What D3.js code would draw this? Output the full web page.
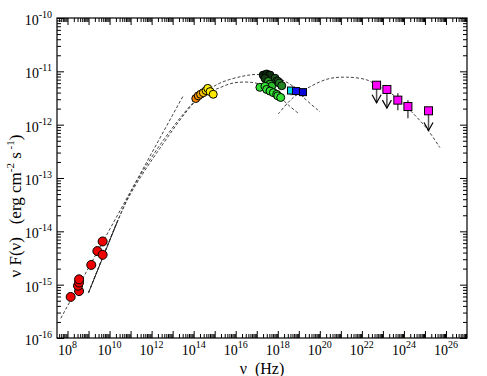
<!DOCTYPE html>
<html>
<head>
<meta charset="utf-8">
<script src="https://cdn.jsdelivr.net/npm/d3@7"></script>
<style>
  body { margin: 0; background: #fff; }
  text { font-family: "Liberation Serif", "DejaVu Serif", serif; fill: #000; }
</style>
</head>
<body>
<div id="vis"></div>
<script>
// Data, as log10(nu [Hz]) and log10(nuFnu [erg cm^-2 s^-1])
const radioNu = [8.15, 8.55, 8.50, 8.55, 8.55, 9.13, 9.42, 9.67, 9.67];
const radioF  = [-15.23, -15.12, -15.02, -14.96, -14.90, -14.63, -14.37, -14.44, -14.19];

const optNu    = [14.10, 14.22, 14.33, 14.46, 14.59, 14.67, 14.78, 14.93];
const optF     = [-11.51, -11.46, -11.43, -11.40, -11.36, -11.32, -11.38, -11.43];
const optColor = ['#f08400', '#f59500', '#faa800', '#ffc400', '#ffe000', '#ffee00', '#ffee00', '#ffe800'];

const uvNu    = [17.31, 17.47, 17.63, 17.39, 17.87, 17.95, 18.02, 18.07, 18.19,
                 17.55, 17.63, 17.71,
                 17.15, 17.39, 17.47, 17.63, 17.79, 17.95, 18.00, 18.14];
const uvF     = [-11.07, -11.05, -11.07, -11.13, -11.13, -11.18, -11.19, -11.22, -11.27,
                 -11.19, -11.24, -11.28,
                 -11.30, -11.28, -11.34, -11.37, -11.40, -11.43, -11.46, -11.49];
const uvColor = ['#082808', '#082808', '#0e300e', '#123a12', '#1a5a1a', '#1c661c', '#1e701e', '#207a20', '#228422',
                 '#22a022', '#28b028', '#2cbc2c',
                 '#33dd33', '#33dd33', '#33dd33', '#33e033', '#33e033', '#33e033', '#33e033', '#33e033'];

const xrayNu    = [18.63, 18.87, 19.20];
const xrayF     = [-11.36, -11.37, -11.39];
const xrayColor = ['#00d8e8', '#1010f0', '#0a0ad8'];

const gamNu    = [22.70, 23.19, 23.71, 24.19, 25.17];
const gamF     = [-11.26, -11.34, -11.54, -11.66, -11.74];
const gamLow   = [-11.59, -11.69, -11.73, -11.88, -12.11];
const gamHigh  = [null, null, -11.41, -11.54, null];
const gamLimit = [true, true, false, false, true];

// model curves
const powerLaw = [[7.68, -15.63], [13.50, -11.46]];
const radioSlope = [[9.00, -15.15], [10.40, -13.79]];
const syncA = [[9.00, -15.15], [10.40, -13.79], [11.05, -13.23], [12.40, -12.38], [13.97, -11.59],
               [14.63, -11.37], [15.25, -11.22], [16.35, -11.09], [17.15, -11.06], [18.10, -11.14],
               [18.82, -11.31], [19.20, -11.48], [20.01, -11.76]];
const syncB = [[9.00, -15.15], [10.40, -13.79], [11.05, -13.26], [12.40, -12.44], [13.97, -11.61],
               [14.63, -11.39], [15.09, -11.33], [15.87, -11.22], [16.82, -11.21], [17.39, -11.28],
               [17.96, -11.43], [18.50, -11.63], [19.02, -11.80]];
const icC = [[18.02, -11.80], [18.48, -11.59], [18.90, -11.44], [20.32, -11.15], [21.28, -11.11],
             [22.23, -11.16], [22.70, -11.26], [23.48, -11.44], [24.29, -11.73], [25.08, -12.07],
             [25.71, -12.43]];

const xLabelExp = [8, 10, 12, 14, 16, 18, 20, 22, 24, 26];
const yLabelExp = [-16, -15, -14, -13, -12, -11, -10];

const W = 487, H = 376;
const plot = { left: 57, right: 467, top: 18, bottom: 338 };

const svg = d3.select('#vis').append('svg')
    .attr('width', W).attr('height', H);

const x = d3.scaleLog().domain([Math.pow(10, 7.5), 1e27]).range([plot.left, plot.right]);
const y = d3.scaleLog().domain([1e-16, 1e-10]).range([plot.bottom, plot.top]);
const p = v => Math.pow(10, v);

// ticks: decades and 2..9 minors
const xMajor = d3.range(8, 27).map(p);
const yMajor = d3.range(-16, -9).map(p);
const minorOf = (lo, hi, dom) => {
    let out = [];
    for (let k = lo; k <= hi; k++) for (let m = 2; m <= 9; m++) {
        const v = m * p(k);
        if (v > dom[0] && v < dom[1]) out.push(v);
    }
    return out;
};
const xMinor = minorOf(7, 26, x.domain());
const yMinor = minorOf(-16, -11, y.domain());

function tickAxis(gen, tr, vals, size) {
    const g = svg.append('g').attr('transform', tr)
        .call(gen.tickValues(vals).tickSize(-size).tickFormat(''));
    g.select('.domain').remove();
    g.selectAll('.tick line').attr('stroke', '#000').attr('stroke-width', 1);
}
tickAxis(d3.axisBottom(x), `translate(0,${plot.bottom})`, xMajor, 7);
tickAxis(d3.axisBottom(x), `translate(0,${plot.bottom})`, xMinor, 4);
tickAxis(d3.axisTop(x), `translate(0,${plot.top})`, xMajor, 7);
tickAxis(d3.axisTop(x), `translate(0,${plot.top})`, xMinor, 4);
tickAxis(d3.axisLeft(y), `translate(${plot.left},0)`, yMajor, 7);
tickAxis(d3.axisLeft(y), `translate(${plot.left},0)`, yMinor, 4);
tickAxis(d3.axisRight(y), `translate(${plot.right},0)`, yMajor, 7);
tickAxis(d3.axisRight(y), `translate(${plot.right},0)`, yMinor, 4);

// frame
svg.append('rect')
    .attr('x', plot.left).attr('y', plot.top)
    .attr('width', plot.right - plot.left).attr('height', plot.bottom - plot.top)
    .attr('fill', 'none').attr('stroke', '#000').attr('stroke-width', 1.2);

// tick labels with superscripts
function powLabel(sel, e) {
    sel.append('tspan').text('10');
    sel.append('tspan').attr('dy', -7).style('font-size', '10px').text(e);
}
xLabelExp.forEach(e => {
    svg.append('text')
        .attr('x', x(p(e))).attr('y', 355)
        .attr('text-anchor', 'middle')
        .style('font-size', '14px')
        .call(powLabel, e);
});
yLabelExp.forEach(e => {
    svg.append('text')
        .attr('x', 52).attr('y', y(p(e)) + 7)
        .attr('text-anchor', 'end')
        .style('font-size', '14px')
        .call(powLabel, e);
});

// axis titles
svg.append('text')
    .attr('x', (plot.left + plot.right) / 2).attr('y', 374)
    .attr('text-anchor', 'middle')
    .style('font-size', '16px').style('white-space', 'pre')
    .text('\u03bd  (Hz)');

const yt = svg.append('text')
    .attr('transform', 'translate(21,206) rotate(-90)')
    .attr('text-anchor', 'middle')
    .style('font-size', '17px').style('white-space', 'pre');
yt.append('tspan').text('\u03bd F(\u03bd)   (erg cm');
yt.append('tspan').attr('dy', -7).style('font-size', '11px').text('-2');
yt.append('tspan').attr('dy', 7).text(' s');
yt.append('tspan').attr('dy', -7).style('font-size', '11px').text(' -1');
yt.append('tspan').attr('dy', 7).text(')');

// model lines
const line = d3.line().x(d => x(p(d[0]))).y(d => y(p(d[1]))).curve(d3.curveCatmullRom);
const curves = svg.append('g');
[powerLaw, syncA, syncB, icC].forEach(c => {
    curves.append('path').datum(c)
        .attr('d', line)
        .attr('fill', 'none')
        .attr('stroke', '#444')
        .attr('stroke-width', 1)
        .attr('stroke-dasharray', '3,2');
});
curves.append('path').datum(radioSlope)
    .attr('d', line).attr('fill', 'none').attr('stroke', '#222').attr('stroke-width', 1);

// radio
svg.append('g').selectAll('circle')
    .data(radioNu.map((v, i) => [v, radioF[i]]))
    .join('circle')
    .attr('cx', d => x(p(d[0]))).attr('cy', d => y(p(d[1])))
    .attr('r', 4.5)
    .attr('fill', '#ee0000').attr('stroke', '#000').attr('stroke-width', 1);

// optical
svg.append('g').selectAll('circle')
    .data(optNu.map((v, i) => [v, optF[i], optColor[i]]))
    .join('circle')
    .attr('cx', d => x(p(d[0]))).attr('cy', d => y(p(d[1])))
    .attr('r', 4)
    .attr('fill', d => d[2]).attr('stroke', '#000').attr('stroke-width', 1);

// UV / soft X
svg.append('g').selectAll('circle')
    .data(uvNu.map((v, i) => [v, uvF[i], uvColor[i]]))
    .join('circle')
    .attr('cx', d => x(p(d[0]))).attr('cy', d => y(p(d[1])))
    .attr('r', 4)
    .attr('fill', d => d[2]).attr('stroke', '#000').attr('stroke-width', 1);

// X-ray squares with small error bars
const xg = svg.append('g');
xrayNu.forEach((v, i) => {
    const cx = x(p(v)), cy = y(p(xrayF[i]));
    xg.append('line')
        .attr('x1', cx).attr('x2', cx)
        .attr('y1', y(p(xrayF[i] + 0.06))).attr('y2', y(p(xrayF[i] - 0.09)))
        .attr('stroke', '#333');
    xg.append('rect')
        .attr('x', cx - 3.5).attr('y', cy - 3.5).attr('width', 7).attr('height', 7)
        .attr('fill', xrayColor[i]).attr('stroke', '#000').attr('stroke-width', 1);
});

// gamma-ray squares, error bars and upper limits
const gg = svg.append('g');
gamNu.forEach((v, i) => {
    const cx = x(p(v)), cy = y(p(gamF[i]));
    const lo = y(p(gamLow[i]));
    if (gamLimit[i]) {
        gg.append('line').attr('x1', cx).attr('x2', cx).attr('y1', cy).attr('y2', lo)
            .attr('stroke', '#555').attr('stroke-width', 1.5);
        gg.append('path')
            .attr('d', `M${cx - 4.5},${lo - 8}L${cx},${lo}L${cx + 4.5},${lo - 8}`)
            .attr('fill', 'none').attr('stroke', '#000').attr('stroke-width', 1.2);
    } else {
        const hi = y(p(gamHigh[i]));
        gg.append('line').attr('x1', cx).attr('x2', cx).attr('y1', hi).attr('y2', lo)
            .attr('stroke', '#555').attr('stroke-width', 1.5);
    }
    gg.append('rect')
        .attr('x', cx - 4).attr('y', cy - 4).attr('width', 8).attr('height', 8)
        .attr('fill', '#ff00ff').attr('stroke', '#000').attr('stroke-width', 1);
});
</script>
</body>
</html>
